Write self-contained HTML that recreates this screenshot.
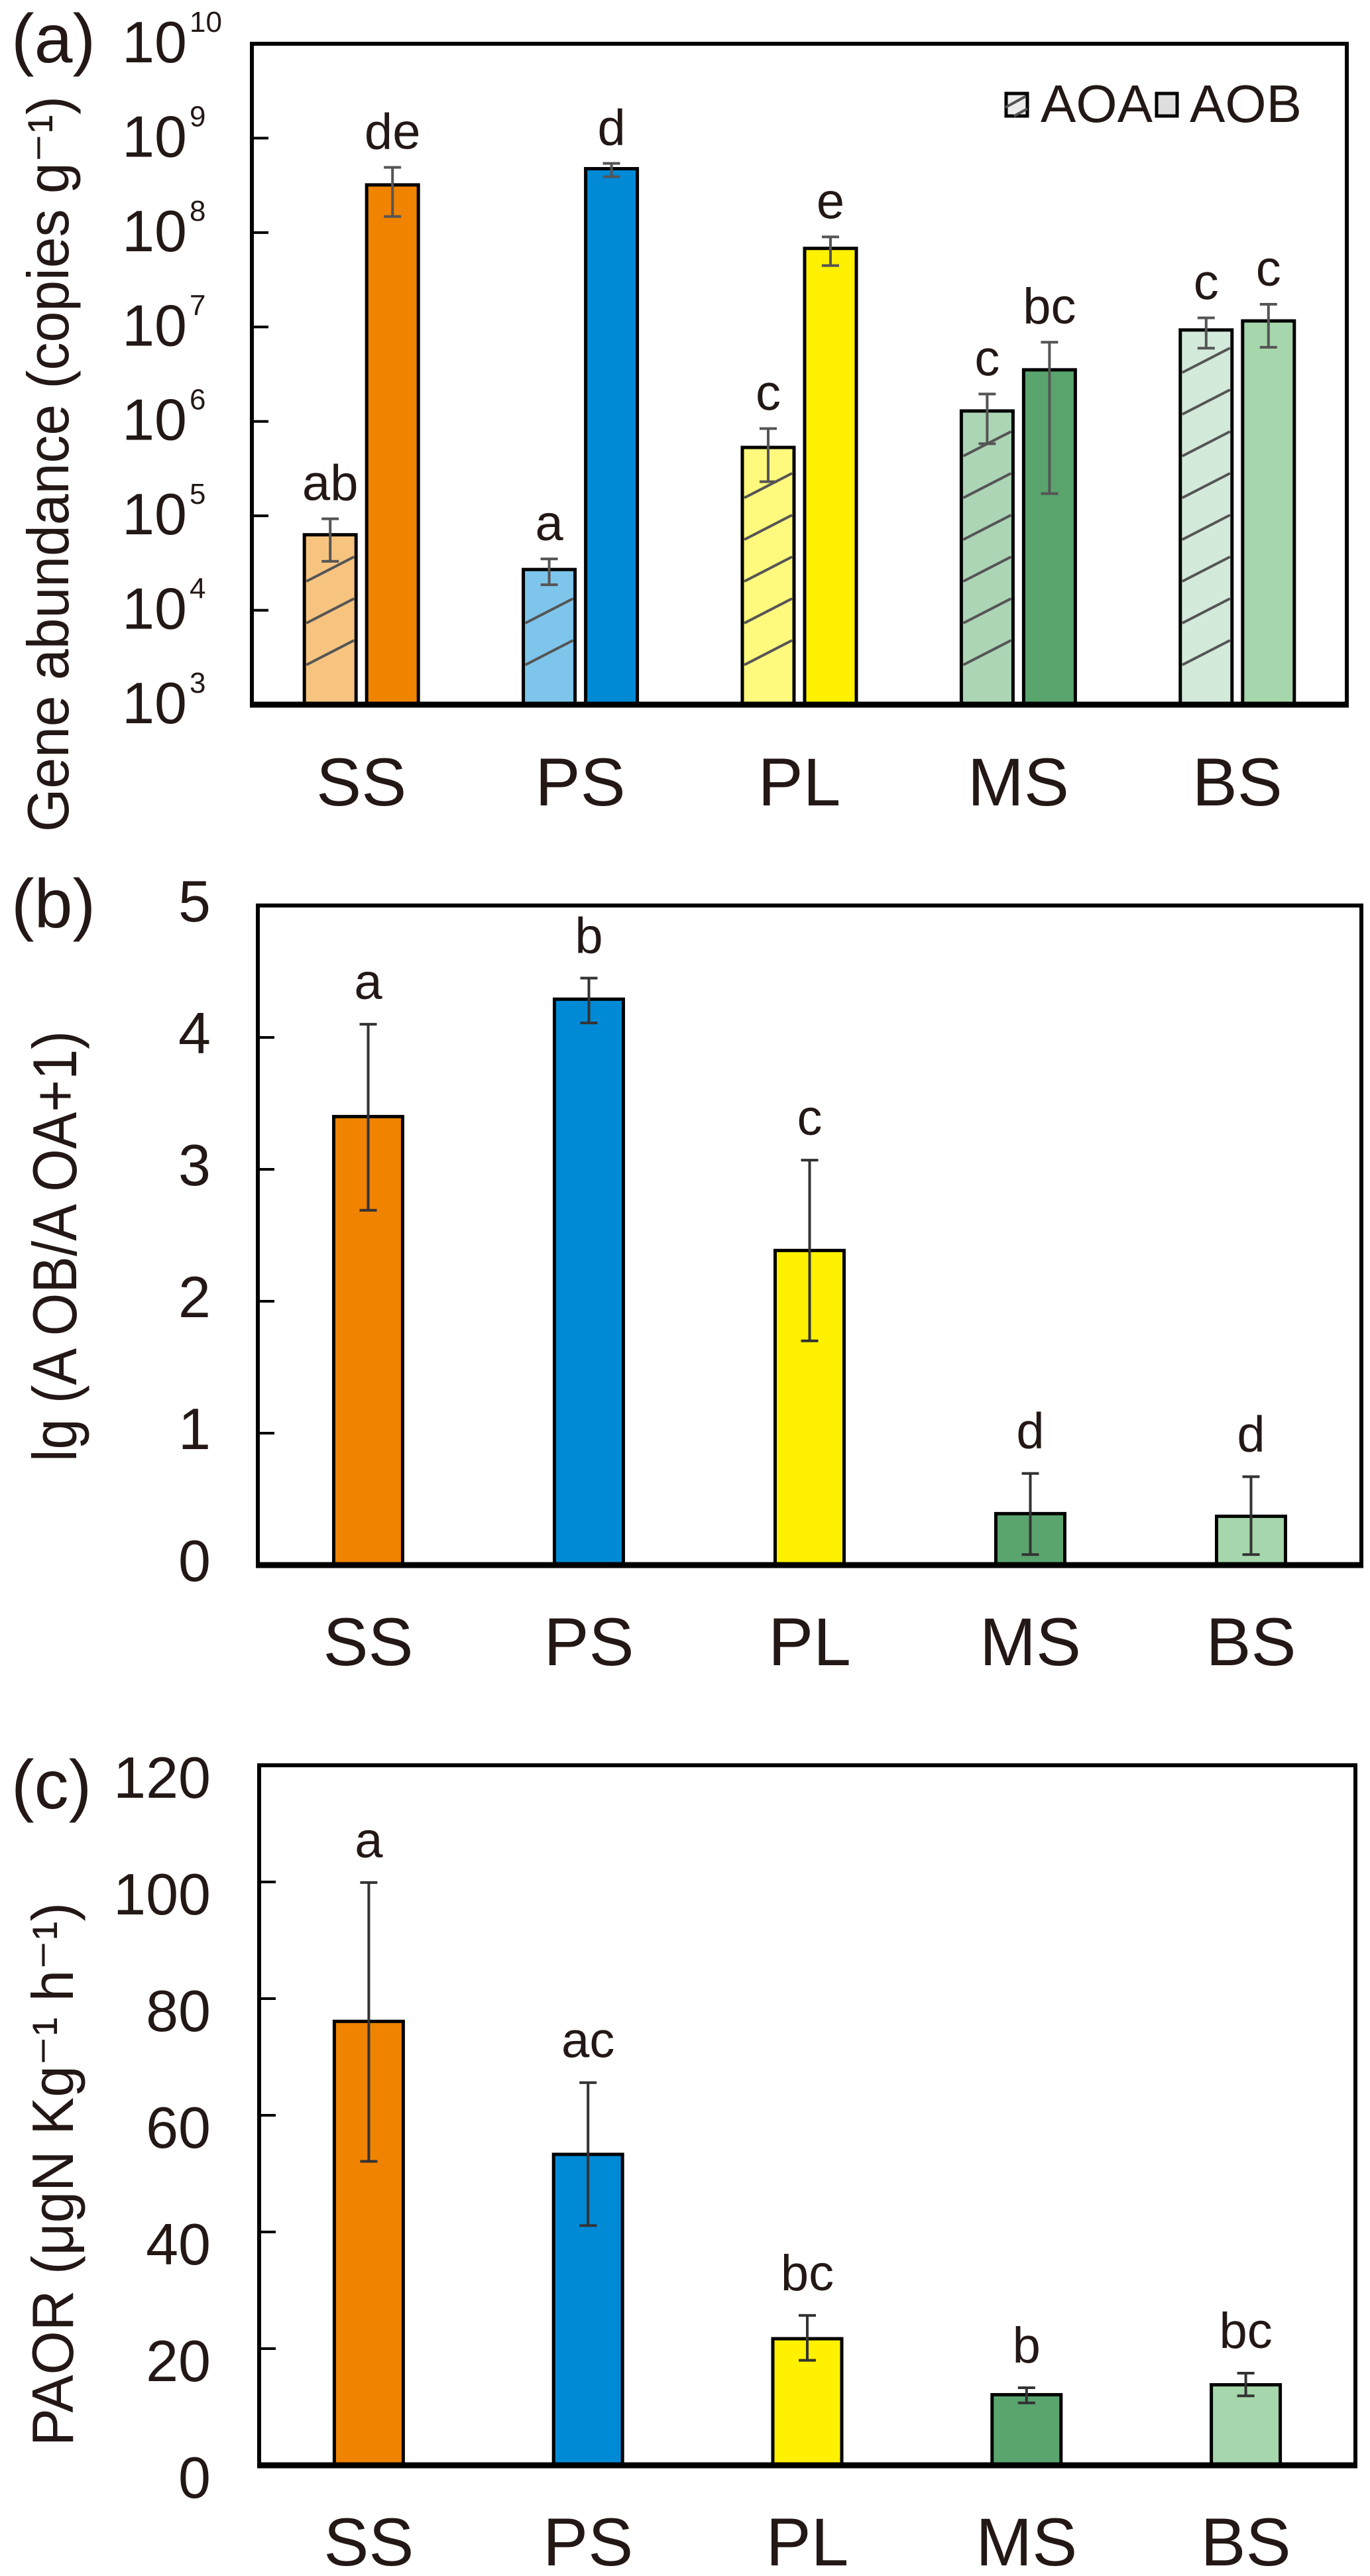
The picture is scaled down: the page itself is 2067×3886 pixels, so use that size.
<!DOCTYPE html>
<html><head><meta charset="utf-8">
<style>
html,body{margin:0;padding:0;background:#fff;}
svg{display:block;}
text{font-family:"Liberation Sans","DejaVu Sans",Arial,sans-serif;fill:#231815;}
</style></head>
<body>
<svg id="fig" width="2067" height="3886" viewBox="0 0 2067 3886" xmlns="http://www.w3.org/2000/svg">
</svg>
<script>
// ---------- data ----------
const categories = ["SS","PS","PL","MS","BS"];
// Panel (a) gene abundance, copies g-1 (log-scale)
const aoaValues = [6.3e4, 2.7e4, 5.3e5, 1.29e6, 9.3e6];
const aoaErrHigh = [9.3e4, 3.5e4, 8.4e5, 1.95e6, 1.25e7];
const aoaErrLow  = [3.3e4, 1.86e4, 2.3e5, 5.8e5, 5.96e6];
const aobValues = [3.2e8, 4.75e8, 6.8e7, 3.52e6, 1.16e7];
const aobErrHigh = [4.9e8, 5.4e8, 9.0e7, 6.9e6, 1.74e7];
const aobErrLow  = [1.48e8, 3.9e8, 4.47e7, 1.72e5, 6.1e6];
const aoaLetters = ["ab","a","c","c","c"];
const aobLetters = ["de","d","e","bc","c"];
const aTickExps = [3,4,5,6,7,8,9,10];
// Panel (b) lg(AOB/AOA+1)
const ratioValues = [3.40, 4.29, 2.385, 0.39, 0.37];
const ratioErrHigh = [4.10, 4.45, 3.07, 0.695, 0.67];
const ratioErrLow  = [2.69, 4.11, 1.70, 0.08, 0.08];
const ratioLetters = ["a","b","c","d","d"];
const bTicks = [0,1,2,3,4,5];
// Panel (c) PAOR
const paorValues = [76.1, 53.3, 21.7, 12.1, 13.8];
const paorErrHigh = [99.9, 65.6, 25.7, 13.3, 15.8];
const paorErrLow  = [52.1, 41.1, 18.0, 10.7, 11.9];
const paorLetters = ["a","ac","bc","b","bc"];
const cTicks = [0,20,40,60,80,100,120];

const aoaFill = ["#f7c480","#7ec5eb","#fff97e","#acd5b6","#d3eadb"];
const aobFill = ["#f08300","#008ad6","#fff100","#5aa46e","#a6d6ab"];

const NS="http://www.w3.org/2000/svg";
const svg=document.getElementById('fig');
function mk(tag,attrs,parent){const e=document.createElementNS(NS,tag);for(const k in attrs)e.setAttribute(k,attrs[k]);(parent||svg).appendChild(e);return e;}
function txt(parent,x,y,s,size,anchor){const t=mk('text',{x:x,y:y,'font-size':size,'text-anchor':anchor||'middle'},parent);t.textContent=s;return t;}
function errBar(g,x,yh,yl,name,col){
  const e=mk('g',{},g);
  
  
  mk('line',{x1:x,x2:x,y1:yh,y2:yl,stroke:col,"stroke-width":4},e);
  mk('line',{x1:x-13,x2:x+13,y1:yh,y2:yh,stroke:col,"stroke-width":4},e);
  mk('line',{x1:x-13,x2:x+13,y1:yl,y2:yl,stroke:col,"stroke-width":4},e);
}
function frame(g,L,T,R,B,name){
  const f=mk('path',{d:`M${L},${B} L${L},${T} L${R},${T} L${R},${B}`,fill:'none',stroke:'#000','stroke-width':6},g);
  
  
  const xa=mk('line',{x1:L-3,x2:R+3,y1:B,y2:B,stroke:'#000','stroke-width':9},g);
  
  
}

// ---------- Panel (a) ----------
(function(){
  const L=380,R=2032,T=66,B=1063;
  const lo=3,hi=10;
  const y=v=>B-(Math.log10(v)-lo)/(hi-lo)*(B-T);
  const yExp=e=>B-(e-lo)/(hi-lo)*(B-T);
  const slot=(R-L)/categories.length;
  const cx=i=>L+slot*(i+0.5);
  const g=mk('g',{});
  
  
  const pl=txt(g,17,94,'(a)',104,'start');
  
  
  aTickExps.forEach(e=>{
    const ty=yExp(e);
    if(e>lo&&e<hi){const tk=mk('line',{x1:L,x2:L+25,y1:ty,y2:ty,stroke:'#000','stroke-width':4},g);
      
      }
    const t=mk('text',{x:282,y:ty+28,'font-size':88,'text-anchor':'end'},g);
    t.textContent='10';
    
    
    const s=mk('text',{x:286,y:ty-18,'font-size':44,'text-anchor':'start'},g);
    s.textContent=String(e);
    
    
  });
  const bw=78, gap=16;
  categories.forEach((c,i)=>{
    const xa=cx(i)-gap/2-bw, xb=cx(i)+gap/2;
    const ya=y(aoaValues[i]), yb=y(aobValues[i]);
    const ra=mk('rect',{x:xa,y:ya,width:bw,height:B-ya,fill:aoaFill[i],stroke:'#000','stroke-width':5},g);
    
    
    const hg=mk('g',{},g);
    
    
    for(let hy=B-60; hy>ya+36; hy-=63){
      mk('line',{x1:xa+3,y1:hy,x2:xa+bw-3,y2:hy-37,stroke:'#555','stroke-width':4},hg);
    }
    const rb=mk('rect',{x:xb,y:yb,width:bw,height:B-yb,fill:aobFill[i],stroke:'#000','stroke-width':5},g);
    
    
    errBar(g,xa+bw/2,y(aoaErrHigh[i]),y(aoaErrLow[i]),'error-bar-aoa-'+c.toLowerCase(),'#555');
    errBar(g,xb+bw/2,y(aobErrHigh[i]),y(aobErrLow[i]),'error-bar-aob-'+c.toLowerCase(),'#555');
    const la=txt(g,xa+bw/2,y(aoaErrHigh[i])-28,aoaLetters[i],76);
    
    
    const lb=txt(g,xb+bw/2,y(aobErrHigh[i])-28,aobLetters[i],76);
    
    
    const xl=txt(g,cx(i),1215,c,102);
    
    
  });
  frame(g,L,T,R,B,'plot-frame-a');
  const lg=mk('g',{},g);
  
  
  const e1=mk('g',{},lg);
  
  
  mk('rect',{x:1518,y:141,width:32,height:34,fill:'#ececec',stroke:'#000','stroke-width':5},e1);
  mk('line',{x1:1517,y1:162,x2:1548,y2:145,stroke:'#555','stroke-width':4},e1);
  mk('line',{x1:1530,y1:175,x2:1550,y2:164,stroke:'#555','stroke-width':4},e1);
  txt(e1,1570,184,'AOA',80,'start');
  const e2=mk('g',{},lg);
  
  
  mk('rect',{x:1745,y:141,width:31,height:34,fill:'#dedede',stroke:'#000','stroke-width':5},e2);
  txt(e2,1795,184,'AOB',80,'start');
  const yt=mk('text',{x:0,y:0,'font-size':88,'text-anchor':'middle',transform:'translate(103,700) rotate(-90)',textLength:1110,lengthAdjust:'spacingAndGlyphs'},g);
  
  
  yt.textContent='Gene abundance (copies g\u207B\u00B9)';
})();

function panel(opts){
  const {L,R,T,B,vmax,ticks,vals,eh,el,letters,name,label,labelY,tickOff,catY}=opts;
  const y=v=>B-v/vmax*(B-T);
  const slot=(R-L)/categories.length;
  const cx=i=>L+slot*(i+0.5);
  const g=mk('g',{});
  
  
  const pl=txt(g,17,labelY,label,104,'start');
  
  
  ticks.forEach(v=>{
    const ty=y(v);
    if(v>0&&v<vmax){const tk=mk('line',{x1:L,x2:L+25,y1:ty,y2:ty,stroke:'#000','stroke-width':4},g);
      
      }
    const t=txt(g,318,ty+tickOff,String(v),88,'end');
    
    
  });
  const bw=104;
  categories.forEach((c,i)=>{
    const yv=y(vals[i]);
    const r=mk('rect',{x:cx(i)-bw/2,y:yv,width:bw,height:B-yv,fill:aobFill[i],stroke:'#000','stroke-width':5},g);
    
    
    errBar(g,cx(i),y(eh[i]),y(el[i]),'error-bar-'+c.toLowerCase(),'#333');
    const l=txt(g,cx(i),y(eh[i])-38,letters[i],76);
    
    
    const xl=txt(g,cx(i),catY,c,102);
    
    
  });
  frame(g,L,T,R,B,'plot-frame-'+name);
  return g;
}

const gb=panel({L:389,R:2054,T:1366,B:2361,vmax:5,ticks:bTicks,vals:ratioValues,eh:ratioErrHigh,el:ratioErrLow,letters:ratioLetters,name:'panel-b',label:'(b)',labelY:1399,tickOff:24,catY:2512});
const ytb=mk('text',{x:0,y:0,'font-size':94,'text-anchor':'middle',transform:'translate(115,1880) rotate(-90)',textLength:650,lengthAdjust:'spacingAndGlyphs'},gb);


ytb.textContent='lg (A OB/A OA+1)';

const gc=panel({L:391,R:2045,T:2663,B:3719,vmax:120,ticks:cTicks,vals:paorValues,eh:paorErrHigh,el:paorErrLow,letters:paorLetters,name:'panel-c',label:'(c)',labelY:2728,tickOff:49,catY:3870});
const ytc=mk('text',{x:0,y:0,'font-size':88,'text-anchor':'middle',transform:'translate(110,3280) rotate(-90)',textLength:820,lengthAdjust:'spacingAndGlyphs'},gc);


ytc.textContent='PAOR  (\u03BCgN Kg\u207B\u00B9 h\u207B\u00B9)';
</script>
</body></html>
